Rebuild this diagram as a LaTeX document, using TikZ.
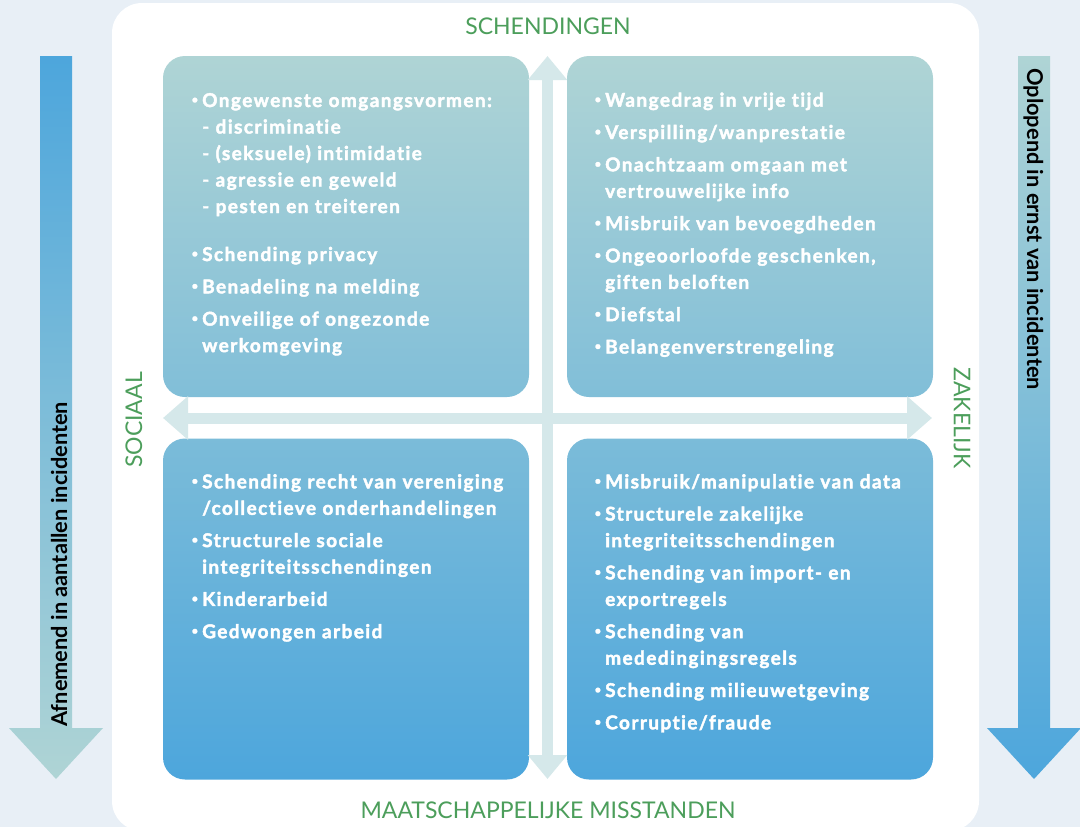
\documentclass[tikz,border=0pt]{standalone}
\usepackage{fontspec}
\setmainfont{Lato}
\newfontfamily\itemfont{Lato}[LetterSpace=7.5, Ligatures=NoCommon, BoldFeatures={FakeBold=2.2}]
\usetikzlibrary{arrows.meta}
\definecolor{pagebg}{HTML}{E8EFF6}
\definecolor{quadteal}{HTML}{AFD4D5}
\definecolor{quadblue}{HTML}{4DA6DC}
\definecolor{crossgrey}{HTML}{D5E8EA}
\definecolor{axisgreen}{HTML}{4C9E5B}
\newcommand{\itm}{\makebox[11pt][l]{\hspace{0.5pt}\raisebox{3.6pt}{\fontsize{11}{11}\selectfont\textbullet}}}
\newcommand{\subitm}{\hspace*{11pt}}

\begin{document}
\begin{tikzpicture}[x=1pt, y=-1pt,
    quad/.style={minimum width=366pt, minimum height=341pt, inner sep=0pt, rounded corners=22pt},
    items/.style={anchor=base west, inner sep=0pt, text width=345pt, align=left, text=white, font=\itemfont\bfseries\fontsize{19}{26.5}\selectfont},
    axislabel/.style={inner sep=0pt, text=axisgreen, font=\fontsize{23}{23}\selectfont},
    sidelabel/.style={inner sep=0pt, anchor=base west, font=\bfseries\fontsize{21.8}{21.8}\selectfont},
    cross/.style={draw=crossgrey, line width=11pt}]
\useasboundingbox[fill=pagebg] (0,0) rectangle (1080,827);
\fill[white, rounded corners=30pt] (112,3) rectangle (979,831);
\shade[top color=quadblue, bottom color=quadteal] (40,56) -- (72,56) -- (72,728) -- (103,728) -- (56,779) -- (9,728) -- (40,728) -- cycle;
\shade[top color=quadteal, bottom color=quadblue] (1018,56) -- (1050,56) -- (1050,728) -- (1081,728) -- (1034,779) -- (987,728) -- (1018,728) -- cycle;
\node[sidelabel, rotate=90] (fewer) at (67,727) {Afnemend in aantallen incidenten};
\node[sidelabel, rotate=-90] (graver) at (1027,68) {Oplopend in ernst van incidenten};
\node[quad, top color=quadteal, bottom color=quadblue!47!quadteal] (tl) at (346,226.5) {};
\node[quad, top color=quadteal, bottom color=quadblue!47!quadteal] (tr) at (750,226.5) {};
\node[quad, top color=quadblue!53!quadteal, bottom color=quadblue] (bl) at (346,609) {};
\node[quad, top color=quadblue!53!quadteal, bottom color=quadblue] (br) at (750,609) {};
\coordinate (up) at (547.5,56);
\coordinate (down) at (547.5,779);
\coordinate (left) at (163,418);
\coordinate (right) at (932,418);
\draw[cross, {Triangle[width=38pt,length=24pt]}-{Triangle[width=38pt,length=24pt]}] (up) -- (down);
\draw[cross, {Triangle[width=42pt,length=25pt]}-{Triangle[width=42pt,length=25pt]}] (left) -- (right);
\node[axislabel] (schendingen) at (548,26) {SCHENDINGEN};
\node[axislabel] (misstanden) at (548,810) {MAATSCHAPPELIJKE MISSTANDEN};
\node[axislabel, rotate=90] (sociaal) at (134,420) {SOCIAAL};
\node[axislabel, rotate=-90] (zakelijk) at (962,418) {ZAKELIJK};
\node[items] (tlitems) at (191,107) {\itm Ongewenste omgangsvormen:\\
    \subitm - discriminatie\\
    \subitm - (seksuele) intimidatie\\
    \subitm - agressie en geweld\\
    \subitm - pesten en treiteren\\[21.5pt]
    \itm Schending privacy\\[5.8pt]
    \itm Benadeling na melding\\[5.8pt]
    \itm Onveilige of ongezonde\\
    \subitm werkomgeving};
\node[items] (tritems) at (594,106.7) {\itm Wangedrag in vrije tijd\\[5.8pt]
    \itm Verspilling/wanprestatie\\[5.8pt]
    \itm Onachtzaam omgaan met\\
    \subitm vertrouwelijke info\\[5.8pt]
    \itm Misbruik van bevoegdheden\\[5.8pt]
    \itm Ongeoorloofde geschenken,\\
    \subitm giften beloften\\[5.8pt]
    \itm Diefstal\\[5.8pt]
    \itm Belangenverstrengeling};
\node[items] (blitems) at (191,488.3) {\itm Schending recht van vereniging\\
    \subitm /collectieve onderhandelingen\\[5.8pt]
    \itm Structurele sociale\\
    \subitm integriteitsschendingen\\[5.8pt]
    \itm Kinderarbeid\\[5.8pt]
    \itm Gedwongen arbeid};
\node[items] (britems) at (594,488.3) {\itm Misbruik/manipulatie van data\\[5.8pt]
    \itm Structurele zakelijke\\
    \subitm integriteitsschendingen\\[5.8pt]
    \itm Schending van import- en\\
    \subitm exportregels\\[5.8pt]
    \itm Schending van\\
    \subitm mededingingsregels\\[5.8pt]
    \itm Schending milieuwetgeving\\[5.8pt]
    \itm Corruptie/fraude};
\end{tikzpicture}
\end{document}
